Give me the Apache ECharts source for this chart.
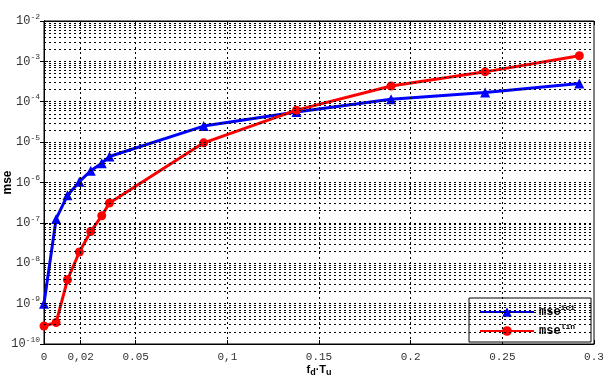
<!DOCTYPE html>
<html>
<head>
<meta charset="utf-8">
<script src="https://cdn.jsdelivr.net/npm/echarts@6/dist/echarts.min.js"></script>
<style>html,body{margin:0;padding:0;background:#fff}#c{width:609px;height:380px}</style>
</head>
<body>
<div id="c"></div>
<script>
var xValues = [0, 0.0066, 0.0128, 0.0193, 0.0255, 0.0315, 0.0357, 0.0871, 0.1377, 0.1893, 0.2406, 0.292];
var mseIci = [1.0e-9, 1.25e-7, 4.8e-7, 1.05e-6, 1.95e-6, 3.0e-6, 4.4e-6, 2.5e-5, 5.6e-5, 1.15e-4, 1.7e-4, 2.85e-4];
var mseLin = [2.8e-10, 3.4e-10, 3.9e-9, 1.9e-8, 6.1e-8, 1.5e-7, 3.1e-7, 9.6e-6, 6.2e-5, 2.45e-4, 5.5e-4, 1.38e-3];
var xTickValues = [0, 0.02, 0.05, 0.1, 0.15, 0.2, 0.25, 0.3];
var xTickLabels = ['0', '0,02', '0.05', '0,1', '0.15', '0.2', '0.25', '0.3'];
var yExponents = [-10, -9, -8, -7, -6, -5, -4, -3, -2];

var chart = echarts.init(document.getElementById('c'));

function pairs(ys) { return xValues.map(function (x, i) { return [x, ys[i]]; }); }

var X_MIN = 0, X_MAX = 0.3;
// grid lines (major decades + minor 2..9, vertical at tick positions)
var gridLines = [];
function hLine(v) { gridLines.push([{ coord: [X_MIN, v] }, { coord: [X_MAX, v] }]); }
yExponents.forEach(function (e, i) {
  if (i > 0 && i < yExponents.length - 1) hLine(Math.pow(10, e));
  if (i < yExponents.length - 1) {
    for (var m = 2; m <= 9; m++) hLine(m * Math.pow(10, e));
  }
});
xTickValues.slice(1, -1).forEach(function (v) { gridLines.push({ xAxis: v }); });

var monoFont = 'Liberation Mono';

var xAxisBase = {
  type: 'value', min: X_MIN, max: X_MAX,
  splitLine: { show: false },
  axisLine: { lineStyle: { color: '#000', width: 1 } }
};

var option = {
  animation: false,
  backgroundColor: '#fff',
  grid: {
    left: 44, right: 15, top: 21, bottom: 36,
    containLabel: false, outerBoundsMode: 'none',
    show: true, borderColor: '#000', borderWidth: 1
  },
  xAxis: [
    Object.assign({}, xAxisBase, {
      position: 'bottom',
      name: 'f{sub|d}·T{sub|u}',
      nameLocation: 'middle', nameGap: 18, nameMoveOverlap: false,
      nameTextStyle: {
        fontFamily: 'Liberation Sans', fontWeight: 'bold', fontSize: 11, color: '#000',
        rich: { sub: { fontFamily: 'Liberation Sans', fontWeight: 'bold', fontSize: 9, color: '#000', padding: [6, 0, 0, 0] } }
      },
      axisTick: { show: true, inside: true, length: 4, customValues: xTickValues, lineStyle: { color: '#000' } },
      axisLabel: {
        customValues: xTickValues, margin: 8,
        fontFamily: monoFont, fontSize: 11, color: '#333',
        formatter: function (v) {
          for (var i = 0; i < xTickValues.length; i++) if (Math.abs(xTickValues[i] - v) < 1e-9) return xTickLabels[i];
          return '';
        }
      }
    }),
    Object.assign({}, xAxisBase, {
      position: 'top',
      axisTick: { show: true, inside: true, length: 4, customValues: xTickValues, lineStyle: { color: '#000' } },
      axisLabel: { show: false }
    })
  ],
  yAxis: [
    {
      type: 'log', logBase: 10, min: 1e-10, max: 1e-2,
      position: 'left',
      name: 'mse', nameLocation: 'middle', nameGap: 30, nameMoveOverlap: false,
      nameTextStyle: { fontFamily: 'Liberation Sans', fontWeight: 'bold', fontSize: 12, color: '#000' },
      splitLine: { show: false },
      axisLine: { lineStyle: { color: '#000' } },
      axisTick: { show: true, inside: true, length: 4, lineStyle: { color: '#000' } },
      axisLabel: {
        margin: 4,
        fontFamily: monoFont, fontSize: 12, color: '#333',
        formatter: function (v) {
          var e = Math.round(Math.log10(v));
          return '{b|10}{s|' + e + '}';
        },
        rich: {
          b: { fontFamily: monoFont, fontSize: 12, color: '#333' },
          s: { fontFamily: monoFont, fontSize: 8, color: '#333', padding: [0, 0, 9, 0] }
        }
      }
    },
    {
      type: 'log', logBase: 10, min: 1e-10, max: 1e-2,
      position: 'right',
      splitLine: { show: false },
      axisLine: { lineStyle: { color: '#000' } },
      axisTick: { show: true, inside: true, length: 4, lineStyle: { color: '#000' } },
      axisLabel: { show: false }
    }
  ],
  legend: {
    orient: 'vertical',
    left: 469, top: 298,
    padding: [6, 16, 5, 10],
    itemWidth: 54, itemHeight: 12, itemGap: 5,
    backgroundColor: '#fff', borderColor: '#000', borderWidth: 1, borderRadius: 0,
    textStyle: {
      fontFamily: monoFont, fontWeight: 'bold', fontSize: 12, color: '#000',
      rich: {
        s: { fontFamily: monoFont, fontWeight: 'bold', fontSize: 8, color: '#000', padding: [0, 0, 8, 0] }
      }
    },
    formatter: function (name) {
      return name === 'ici' ? 'mse{s|ici}' : 'mse{s|lin}';
    },
    data: ['ici', 'lin']
  },
  series: [
    {
      name: 'grid', type: 'line', data: [], silent: true, z: 1,
      markLine: {
        silent: true, symbol: 'none', animation: false,
        label: { show: false },
        lineStyle: { color: '#000', width: 1, type: [2, 3] },
        data: gridLines
      }
    },
    {
      name: 'ici', type: 'line', data: pairs(mseIci), z: 3,
      color: '#0000ff',
      lineStyle: { color: '#0000ff', width: 3 },
      itemStyle: { color: '#0000ff' },
      symbol: 'triangle', symbolSize: 10
    },
    {
      name: 'lin', type: 'line', data: pairs(mseLin), z: 4,
      color: '#ff0000',
      lineStyle: { color: '#ff0000', width: 3 },
      itemStyle: { color: '#ff0000' },
      symbol: 'circle', symbolSize: 9
    }
  ]
};
chart.setOption(option);
</script>
</body>
</html>
